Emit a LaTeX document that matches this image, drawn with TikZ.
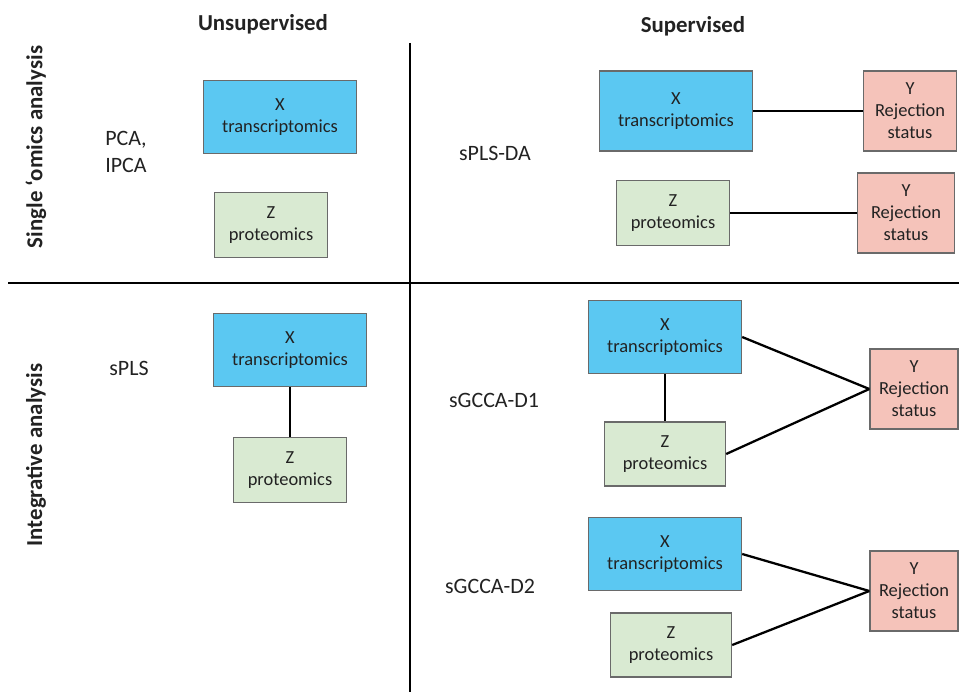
\documentclass[tikz,border=0pt]{standalone}
\usepackage{fontspec}
\setmainfont{Carlito}
\definecolor{xblue}{HTML}{5BC8F2}
\definecolor{zgreen}{HTML}{D9EAD2}
\definecolor{ypink}{HTML}{F5C3BA}
\definecolor{edgegray}{HTML}{6A6A6A}
\definecolor{inkdark}{HTML}{222222}
\begin{document}
\begin{tikzpicture}[x=0.02cm, y=-0.02cm,
  box/.style={draw=edgegray, line width=0.8pt, inner sep=0pt, align=center, font=\fontsize{10.5}{12.5}\selectfont, text=inkdark},
  xbox/.style={box, fill=xblue, minimum width=3.06cm, minimum height=1.45cm},
  zbox/.style={box, fill=zgreen, minimum width=2.26cm, minimum height=1.3cm},
  ybox/.style={box, fill=ypink, minimum width=1.76cm, minimum height=1.6cm},
  method/.style={align=left, font=\fontsize{12.5}{15}\selectfont, text=inkdark},
  head/.style={font=\bfseries\fontsize{13}{15}\selectfont, text=inkdark},
  link/.style={line width=1.3pt}]
  \useasboundingbox (0,0) rectangle (959,692);
  % quadrant dividers
  \draw[line width=1.3pt] (8,283) -- (959,283);
  \draw[line width=1.3pt] (410,43) -- (410,692);
  % headings
  \node[head] (unsup) at (263,24) {Unsupervised};
  \node[head] (sup) at (693,26) {Supervised};
  \node[head, rotate=90] (single) at (36,147) {Single ‘omics analysis};
  \node[head, rotate=90] (integ) at (36,455) {Integrative analysis};
  % single omics, unsupervised
  \node[method] (pca) at (126,152) {PCA,\\IPCA};
  \node[xbox] (xa) at (280,117) {X\\transcriptomics};
  \node[zbox] (za) at (271,225) {Z\\proteomics};
  % single omics, supervised
  \node[method] (splsda) at (495,153) {sPLS-DA};
  \node[xbox, minimum height=1.6cm] (xb) at (676,111) {X\\transcriptomics};
  \node[ybox, minimum width=1.86cm] (yb) at (910,111) {Y\\Rejection\\status};
  \node[zbox] (zb) at (673,213) {Z\\proteomics};
  \node[ybox, minimum width=1.94cm] (yc) at (906,213) {Y\\Rejection\\status};
  \draw[link] (xb.east) -- (yb.west);
  \draw[link] (zb.east) -- (yc.west);
  % integrative, unsupervised
  \node[method] (spls) at (129,368) {sPLS};
  \node[xbox] (xc) at (290,350) {X\\transcriptomics};
  \node[zbox] (zc) at (290,470) {Z\\proteomics};
  \draw[link] (xc.south) -- (zc.north);
  % integrative, supervised
  \node[method] (done) at (494,400) {sGCCA-D1};
  \node[xbox] (xd) at (665,337) {X\\transcriptomics};
  \node[zbox, minimum width=2.42cm, minimum height=1.28cm] (zd) at (665,454) {Z\\proteomics};
  \node[ybox] (yd) at (914,389) {Y\\Rejection\\status};
  \draw[link] (xd.south) -- (zd.north);
  \draw[link] (xd.east) -- (yd.west);
  \draw[link] (zd.east) -- (yd.west);
  \node[method] (dtwo) at (490,586) {sGCCA-D2};
  \node[xbox] (xe) at (665,554) {X\\transcriptomics};
  \node[zbox, minimum width=2.42cm, minimum height=1.28cm] (ze) at (671,645) {Z\\proteomics};
  \node[ybox] (ye) at (914,591) {Y\\Rejection\\status};
  \draw[link] (xe.east) -- (ye.west);
  \draw[link] (ze.east) -- (ye.west);
\end{tikzpicture}
\end{document}
